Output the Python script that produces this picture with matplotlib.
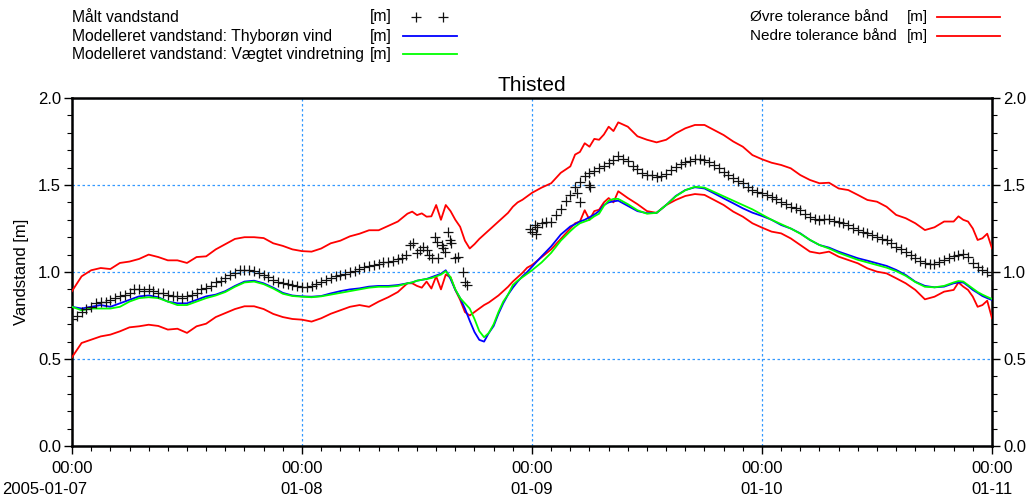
import numpy as np
import matplotlib
matplotlib.use("Agg")
import matplotlib.pyplot as plt
from matplotlib.lines import Line2D
from matplotlib.ticker import MultipleLocator, FixedLocator

plt.rcParams['font.family'] = ['Liberation Sans', 'DejaVu Sans']

# ---------------- data (hours after 2005-01-07 00:00) ----------------
t_line = np.concatenate([np.arange(0, 36, 1.0), np.arange(35.5, 48.01, 0.5),
                         np.arange(49, 53, 1.0), np.arange(52.5, 57.01, 0.5),
                         np.arange(58, 93, 1.0), np.arange(92.5, 96.01, 0.5)])

upper_band = [0.89, 0.975, 1.01, 1.023, 1.017, 1.052, 1.06, 1.075, 1.10, 1.086,
              1.067, 1.067, 1.052, 1.086, 1.09, 1.13, 1.16, 1.19, 1.20, 1.20,
              1.195, 1.165, 1.15, 1.13, 1.12, 1.117, 1.135, 1.165, 1.18, 1.205,
              1.22, 1.24, 1.24, 1.265, 1.29, 1.335,
              1.347, 1.327, 1.337, 1.318, 1.32, 1.385, 1.30, 1.385, 1.35, 1.30,
              1.26, 1.18, 1.135, 1.16, 1.19, 1.215, 1.24, 1.265, 1.29, 1.315,
              1.34, 1.375, 1.40, 1.415, 1.435, 1.455,
              1.485, 1.51, 1.57, 1.607,
              1.675, 1.69, 1.74, 1.72, 1.765, 1.76, 1.79, 1.835, 1.81, 1.86,
              1.835, 1.78, 1.76, 1.745, 1.76, 1.797, 1.826, 1.845, 1.845, 1.816,
              1.787, 1.75, 1.72, 1.672, 1.648, 1.628, 1.615, 1.596, 1.557, 1.529,
              1.51, 1.513, 1.48, 1.471, 1.443, 1.414, 1.404, 1.375, 1.328, 1.309,
              1.28, 1.241, 1.257, 1.29, 1.29,
              1.32, 1.30, 1.29, 1.25, 1.184, 1.194, 1.22, 1.136]

lower_band = [0.51, 0.592, 0.611, 0.63, 0.64, 0.659, 0.682, 0.688, 0.697, 0.69,
              0.669, 0.674, 0.65, 0.688, 0.703, 0.741, 0.764, 0.787, 0.803, 0.803,
              0.787, 0.759, 0.741, 0.73, 0.726, 0.715, 0.734, 0.76, 0.78, 0.80,
              0.81, 0.80, 0.83, 0.855, 0.885, 0.935,
              0.935, 0.92, 0.91, 0.945, 0.905, 0.975, 0.90, 0.985, 0.97, 0.897,
              0.84, 0.77, 0.75, 0.77, 0.79, 0.81, 0.825, 0.845, 0.865, 0.89,
              0.915, 0.945, 0.97, 0.995, 1.025, 1.04,
              1.085, 1.13, 1.19, 1.25,
              1.28, 1.29, 1.355, 1.30, 1.35, 1.358, 1.40, 1.425, 1.40, 1.464,
              1.425, 1.39, 1.35, 1.34, 1.385, 1.414, 1.437, 1.448, 1.443, 1.414,
              1.385, 1.347, 1.318, 1.28, 1.255, 1.232, 1.222, 1.193, 1.155, 1.117,
              1.107, 1.117, 1.088, 1.069, 1.05, 1.021, 1.002, 0.992, 0.964, 0.935,
              0.897, 0.843, 0.858, 0.887, 0.897,
              0.94, 0.916, 0.897, 0.858, 0.80, 0.81, 0.835, 0.734]

model_thyboron = [0.80, 0.79, 0.80, 0.81, 0.80, 0.82, 0.84, 0.86, 0.865, 0.855,
                  0.83, 0.82, 0.82, 0.84, 0.86, 0.87, 0.89, 0.92, 0.945, 0.95,
                  0.935, 0.91, 0.88, 0.865, 0.86, 0.858, 0.862, 0.877, 0.89, 0.90,
                  0.906, 0.916, 0.92, 0.92, 0.925, 0.935,
                  0.94, 0.95, 0.955, 0.96, 0.97, 0.98, 0.99, 1.01, 0.96, 0.897,
                  0.85, 0.79, 0.72, 0.655, 0.61, 0.60, 0.65, 0.69, 0.76, 0.82,
                  0.87, 0.91, 0.945, 0.975, 1.0, 1.03,
                  1.09, 1.147, 1.215, 1.262,
                  1.275, 1.29, 1.30, 1.315, 1.33, 1.35, 1.385, 1.40, 1.406, 1.41,
                  1.38, 1.35, 1.338, 1.34, 1.385, 1.437, 1.471, 1.487, 1.48, 1.452,
                  1.423, 1.395, 1.366, 1.341, 1.322, 1.30, 1.27, 1.25, 1.222, 1.184,
                  1.155, 1.14, 1.117, 1.098, 1.079, 1.065, 1.05, 1.035, 1.012, 0.983,
                  0.944, 0.92, 0.912, 0.916, 0.935,
                  0.94, 0.94, 0.92, 0.897, 0.88, 0.862, 0.85, 0.839]

model_weighted = [0.80, 0.78, 0.79, 0.79, 0.79, 0.80, 0.83, 0.85, 0.855, 0.85,
                  0.83, 0.81, 0.81, 0.83, 0.85, 0.865, 0.885, 0.915, 0.94, 0.945,
                  0.93, 0.905, 0.875, 0.862, 0.858, 0.855, 0.86, 0.87, 0.88, 0.89,
                  0.90, 0.91, 0.915, 0.915, 0.92, 0.935,
                  0.94, 0.95, 0.955, 0.96, 0.965, 0.975, 0.985, 1.005, 0.97, 0.90,
                  0.85, 0.82, 0.79, 0.73, 0.66, 0.625, 0.65, 0.70, 0.77, 0.83,
                  0.87, 0.925, 0.95, 0.97, 0.99, 1.01,
                  1.055, 1.11, 1.18, 1.235,
                  1.26, 1.28, 1.29, 1.30, 1.32, 1.335, 1.38, 1.41, 1.42, 1.42,
                  1.39, 1.355, 1.335, 1.34, 1.385, 1.435, 1.47, 1.49, 1.485, 1.46,
                  1.435, 1.41, 1.385, 1.36, 1.33, 1.30, 1.275, 1.25, 1.22, 1.185,
                  1.155, 1.135, 1.11, 1.09, 1.07, 1.055, 1.04, 1.025, 1.005, 0.978,
                  0.942, 0.915, 0.912, 0.92, 0.94,
                  0.948, 0.945, 0.925, 0.905, 0.885, 0.87, 0.857, 0.845]

# measured water level: continuous part, scattered part, continuous part
t_meas_a = np.arange(0, 34.01, 0.5)
meas_a = [0.73, 0.75, 0.77, 0.79, 0.80, 0.82, 0.83, 0.83, 0.84, 0.85,
          0.86, 0.87, 0.88, 0.90, 0.90, 0.89, 0.90, 0.89, 0.88, 0.88,
          0.87, 0.86, 0.86, 0.85, 0.86, 0.87, 0.88, 0.90, 0.91, 0.92,
          0.94, 0.95, 0.965, 0.98, 0.995, 1.01, 1.01, 1.01, 1.005, 0.995,
          0.985, 0.97, 0.955, 0.945, 0.935, 0.93, 0.925, 0.92,
          0.915, 0.915, 0.92, 0.93, 0.94, 0.955, 0.965, 0.975, 0.985, 0.99,
          1.0, 1.005, 1.015, 1.03, 1.035, 1.04, 1.045, 1.055, 1.06, 1.065, 1.075]

t_meas_b = [34.4, 34.9, 35.27, 35.6, 35.97, 36.3, 36.66, 37.0, 37.2, 37.53,
            37.9, 38.05, 38.2, 38.57, 38.74, 38.9, 39.27, 39.44, 39.6, 39.97,
            40.3, 40.84, 41.0, 41.19,
            47.8, 48.3, 48.45, 52.7, 53.0, 53.9, 54.05]
meas_b = [1.079, 1.098, 1.155, 1.165, 1.107, 1.126, 1.146, 1.126, 1.098, 1.079,
          1.203, 1.174, 1.079, 1.155, 1.136, 1.117, 1.232, 1.184, 1.165, 1.079,
          1.088, 1.002, 0.944, 0.925,
          1.25, 1.27, 1.22, 1.455, 1.40, 1.50, 1.49]

t_meas_c = np.arange(48, 96.01, 0.5)
meas_c = [1.23, 1.26, 1.28, 1.29, 1.29, 1.33, 1.36, 1.41, 1.44, 1.49,
          1.52, 1.55, 1.57, 1.58, 1.595, 1.61, 1.625, 1.645, 1.665, 1.65,
          1.636, 1.61, 1.59, 1.57, 1.56, 1.555, 1.545, 1.55, 1.565, 1.585,
          1.605, 1.62, 1.634, 1.64, 1.648, 1.65, 1.644, 1.63, 1.615, 1.60,
          1.577, 1.56, 1.538, 1.525, 1.51, 1.49, 1.471, 1.46,
          1.456, 1.445, 1.433, 1.42, 1.404, 1.39, 1.375, 1.365, 1.356, 1.335,
          1.318, 1.305, 1.30, 1.305, 1.304, 1.295, 1.29, 1.28, 1.27, 1.255,
          1.241, 1.23, 1.222, 1.21, 1.199, 1.19, 1.184, 1.165, 1.145, 1.13,
          1.117, 1.10, 1.079, 1.065, 1.05, 1.045, 1.046, 1.055, 1.069, 1.08,
          1.092, 1.10, 1.104, 1.085, 1.05, 1.03, 1.012, 1.0, 0.983]

x_tick_hours = [0, 24, 48, 72, 96]
x_tick_labels = ["00:00", "00:00\n01-08", "00:00\n01-09",
                 "00:00\n01-10", "00:00\n01-11"]
start_date_label = "2005-01-07"
y_ticks = [0.0, 0.5, 1.0, 1.5, 2.0]

# ---------------- figure ----------------
W, H = 1036, 499
fig = plt.figure(figsize=(W / 100, H / 100), dpi=100)
ax = fig.add_axes([72 / W, 1 - 446 / H, (992 - 72) / W, (446 - 98) / H])

red, blue, green = '#ff0000', '#0000ff', '#00ff00'
lw = 1.3
ax.plot(t_line, upper_band, color=red, lw=lw, zorder=3)
ax.plot(t_line, lower_band, color=red, lw=lw, zorder=3)
ax.plot(t_line, model_thyboron, color=blue, lw=lw, zorder=4)
ax.plot(t_line, model_weighted, color=green, lw=lw, zorder=5)
for tt, vv in ((t_meas_a, meas_a), (t_meas_b, meas_b), (t_meas_c, meas_c)):
    ax.plot(tt, vv, ls='none', marker='+', ms=6.5, mew=0.9, color='#111111', zorder=6)

ax.set_xlim(0, 96)
ax.set_ylim(0, 2)
ax.xaxis.set_major_locator(FixedLocator(x_tick_hours))
ax.set_xticklabels(x_tick_labels, linespacing=1.45)
ax.xaxis.set_minor_locator(MultipleLocator(2))
ax.yaxis.set_major_locator(FixedLocator(y_ticks))
ax.yaxis.set_minor_locator(MultipleLocator(0.1))
ax.set_yticklabels([f"{v:.1f}" for v in y_ticks])

ax.tick_params(which='major', direction='out', length=6, width=1, labelsize=12,
               left=True, right=True, bottom=True, top=False,
               labelleft=True, labelright=True, pad=2)
ax.tick_params(which='minor', direction='out', length=3.5, width=0.8,
               left=True, right=True, bottom=True, top=False)
ax.tick_params(axis='x', which='major', pad=5)

ax.grid(True, which='major', color='#3399ff', ls=(0, (2, 2)), lw=0.9)
for s in ax.spines.values():
    s.set_linewidth(1.8)
    s.set_color('black')

ax.set_ylabel("Vandstand [m]", fontsize=12, labelpad=6)
ax.set_title("Thisted", fontsize=15, pad=5)

# ---------------- legends / extra text ----------------
def fx(x):
    return x / W

def fy(y):
    return 1 - y / H

fig.text(fx(45), fy(490), start_date_label, fontsize=12, ha='center', va='center')

rows = [17, 36, 54]
left_labels = ["Målt vandstand", "Modelleret vandstand: Thyborøn vind",
               "Modelleret vandstand: Vægtet vindretning"]
for y, lab in zip(rows, left_labels):
    fig.text(fx(72), fy(y), lab, fontsize=11.3, va='center', ha='left')
    fig.text(fx(370), fy(y), "[m]", fontsize=11.3, va='center', ha='left')
fig.add_artist(Line2D([fx(416), fx(443)], [fy(rows[0]), fy(rows[0])], ls='none',
                      marker='+', ms=6.5, mew=0.9, color='#111111',
                      transform=fig.transFigure))
fig.add_artist(Line2D([fx(403), fx(457)], [fy(rows[1])] * 2, color=blue, lw=lw,
                      transform=fig.transFigure))
fig.add_artist(Line2D([fx(403), fx(457)], [fy(rows[2])] * 2, color=green, lw=lw,
                      transform=fig.transFigure))

right_labels = ["Øvre tolerance bånd", "Nedre tolerance bånd"]
for y, lab in zip(rows[:2], right_labels):
    fig.text(fx(750), fy(y), lab, fontsize=11, va='center', ha='left')
    fig.text(fx(907), fy(y), "[m]", fontsize=11, va='center', ha='left')
    fig.add_artist(Line2D([fx(937), fx(1000)], [fy(y)] * 2, color=red, lw=lw,
                          transform=fig.transFigure))

fig.savefig("out.png", dpi=100)
